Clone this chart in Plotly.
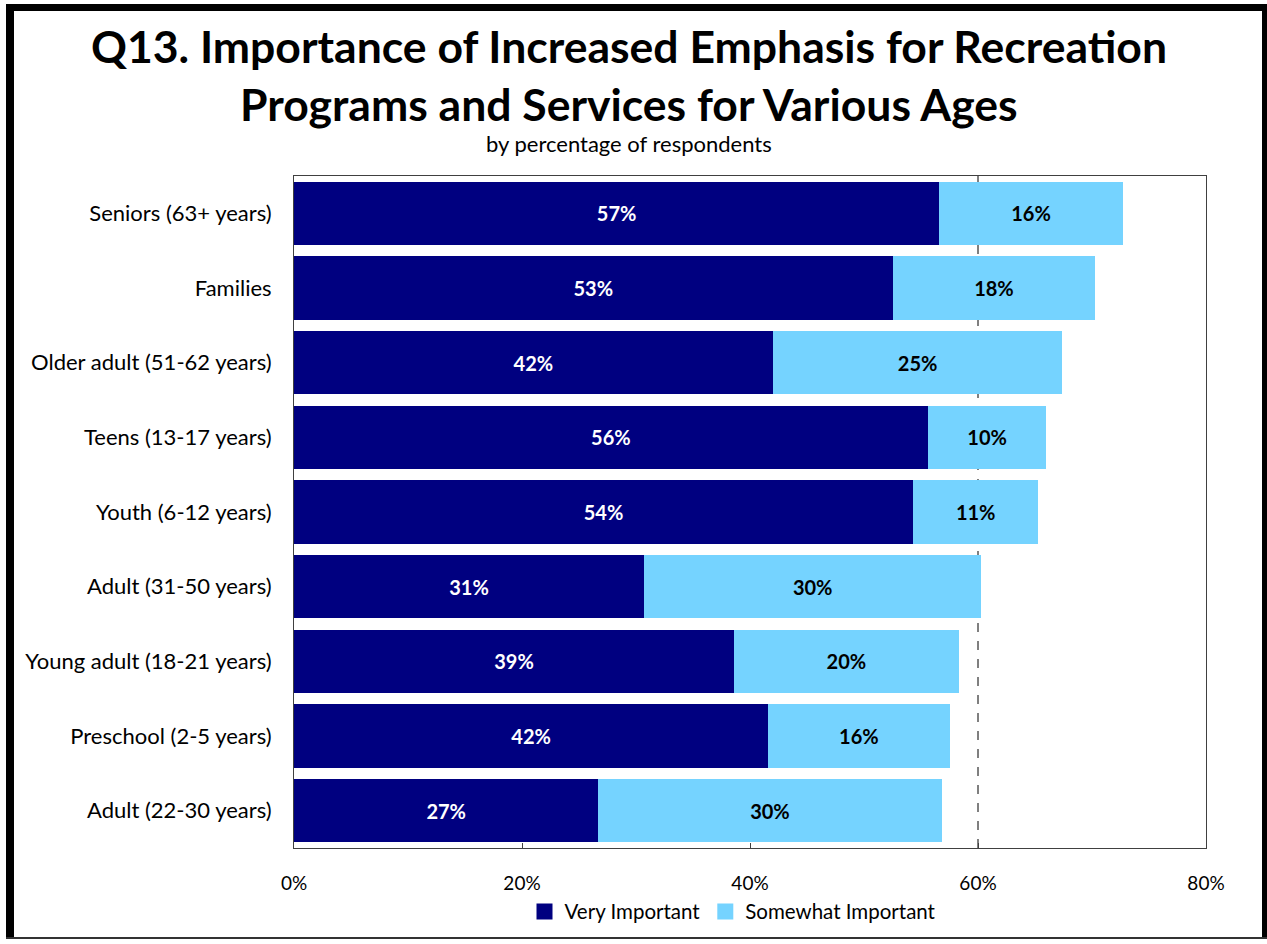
import plotly.graph_objects as go

categories = ["Seniors (63+ years)", "Families", "Older adult (51-62 years)", "Teens (13-17 years)",
              "Youth (6-12 years)", "Adult (31-50 years)", "Young adult (18-21 years)",
              "Preschool (2-5 years)", "Adult (22-30 years)"]
very_important = [56.6, 52.5, 42.0, 55.6, 54.3, 30.7, 38.6, 41.6, 26.7]
somewhat_important = [16.1, 17.8, 25.4, 10.4, 11.0, 29.6, 19.7, 15.9, 30.1]
x_ticks = [0, 20, 40, 60, 80]
x_tick_labels = ["0%", "20%", "40%", "60%", "80%"]
series_names = ["Very Important", "Somewhat Important"]
series_colors = ["#000080", "#75D3FF"]

FONT = "Lato"
W, H = 1267, 944
L, R, T, B = 294, 61, 176, 92
PW, PH = W - L - R, H - T - B

def px(x):
    return (x - L) / PW

def py(y):
    return (H - B - y) / PH

fig = go.Figure()
fig.add_trace(go.Bar(
    y=categories, x=very_important, orientation="h", name=series_names[0], showlegend=False,
    marker=dict(color=series_colors[0], line=dict(width=0)),
    texttemplate="<b>%{x:.0f}%</b>", textposition="inside", insidetextanchor="middle",
    textfont=dict(color="white", size=20, family=FONT),
))
fig.add_trace(go.Bar(
    y=categories, x=somewhat_important, orientation="h", name=series_names[1], showlegend=False,
    marker=dict(color=series_colors[1], line=dict(width=0)),
    texttemplate="<b>%{x:.0f}%</b>", textposition="inside", insidetextanchor="middle",
    textfont=dict(color="black", size=20, family=FONT),
))
# legend entries with larger square swatches
for name, color in zip(series_names, series_colors):
    fig.add_trace(go.Scatter(
        x=[None], y=[None], mode="markers", name=name, showlegend=True,
        marker=dict(symbol="square", size=17, color=color),
    ))

shapes = [
    dict(type="line", xref="x", yref="paper", x0=60, x1=60, y0=0, y1=1,
         line=dict(color="black", width=1, dash="dash"), layer="below"),
    # outer frame
    dict(type="line", xref="paper", yref="paper", x0=px(10), x1=px(10), y0=py(3), y1=py(943),
         line=dict(color="black", width=8)),
    dict(type="line", xref="paper", yref="paper", x0=px(6), x1=px(1267), y0=py(6.5), y1=py(6.5),
         line=dict(color="black", width=7)),
    dict(type="line", xref="paper", yref="paper", x0=px(1264.5), x1=px(1264.5), y0=py(3), y1=py(943),
         line=dict(color="black", width=5)),
    dict(type="line", xref="paper", yref="paper", x0=px(6), x1=px(1267), y0=py(942.5), y1=py(942.5),
         line=dict(color="#333333", width=2)),
]

annotations = [
    dict(text="<b>Q13. Importance of Increased Emphasis for Recreation</b>", xref="paper", yref="paper",
         x=px(629), y=py(45), xanchor="center", yanchor="middle", showarrow=False,
         font=dict(family=FONT, size=44.5, color="black")),
    dict(text="<b>Programs and Services for Various Ages</b>", xref="paper", yref="paper",
         x=px(629), y=py(103), xanchor="center", yanchor="middle", showarrow=False,
         font=dict(family=FONT, size=44.5, color="black")),
    dict(text="by percentage of respondents", xref="paper", yref="paper",
         x=px(629), y=py(143), xanchor="center", yanchor="middle", showarrow=False,
         font=dict(family=FONT, size=22, color="black")),
]

fig.update_layout(
    width=W, height=H,
    margin=dict(l=L, r=R, t=T, b=B, pad=0),
    barmode="stack", bargap=0.15,
    paper_bgcolor="white", plot_bgcolor="white",
    font=dict(family=FONT, size=18, color="black"),
    showlegend=True,
    legend=dict(orientation="h", xanchor="center", yanchor="middle", x=px(733), y=py(916),
                font=dict(family=FONT, size=20.5, color="black"), traceorder="normal",
                itemsizing="trace", itemwidth=30, tracegroupgap=0),
    shapes=shapes, annotations=annotations,
    uniformtext=dict(mode="show", minsize=10),
)
fig.update_xaxes(range=[0, 80], tickvals=x_ticks, ticktext=x_tick_labels, showgrid=False,
                 zeroline=False, showline=True, linecolor="#404040", linewidth=1, mirror=True,
                 ticks="inside", ticklen=5, tickcolor="#404040", ticklabelstandoff=18,
                 tickfont=dict(family=FONT, size=19, color="black"))
fig.update_yaxes(autorange="reversed", showgrid=False, showline=True, linecolor="#404040",
                 linewidth=1, mirror=True, ticks="", ticklabelstandoff=17,
                 tickfont=dict(family=FONT, size=22, color="black"))

fig.write_html("out.html")
